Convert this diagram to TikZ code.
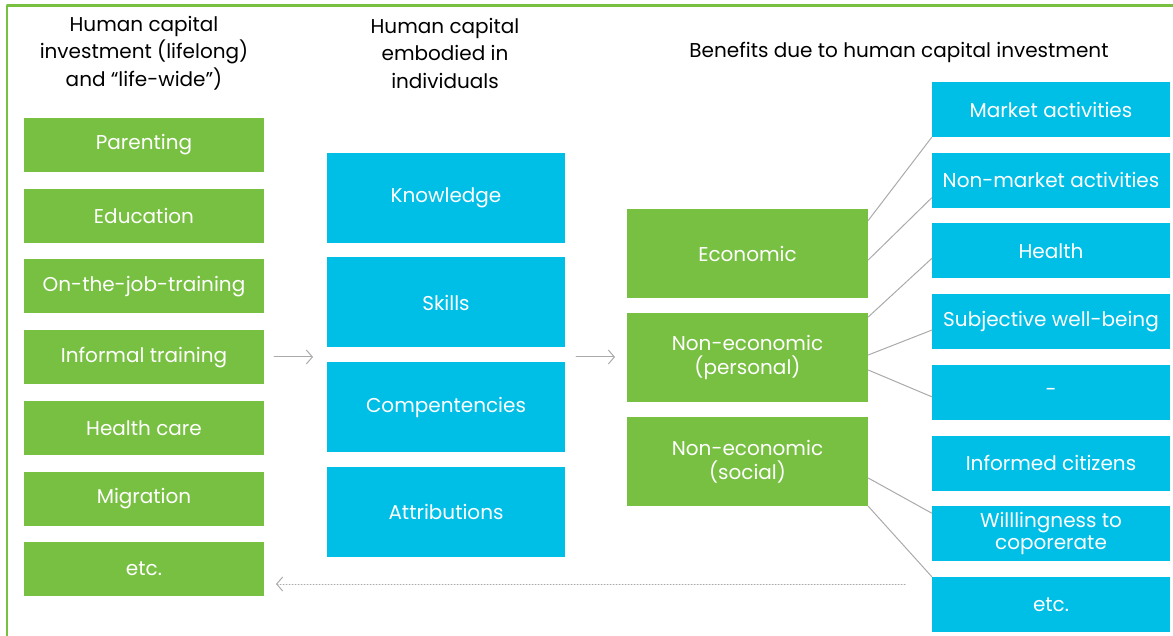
\documentclass[tikz,border=0pt]{standalone}
\usepackage{fontspec}
\setmainfont{Poppins}
\usetikzlibrary{arrows.meta}
\definecolor{hcgreen}{RGB}{120,192,66}
\definecolor{hcblue}{RGB}{0,191,231}
\definecolor{linkgray}{RGB}{170,170,170}
\begin{document}
\begin{tikzpicture}[x=1pt, y=-1pt, line join=round, line cap=round,
    txt/.style={font=\fontsize{20}{24}\selectfont, align=center, inner sep=0pt},
    greenbox/.style={txt, fill=hcgreen, text=white, minimum width=240pt, minimum height=54pt},
    bluebox/.style={txt, fill=hcblue, text=white, minimum width=238pt, minimum height=90pt},
    benefit/.style={txt, fill=hcgreen, text=white, minimum width=241pt, minimum height=89pt},
    outcome/.style={txt, fill=hcblue, text=white, minimum width=238pt, minimum height=55pt},
    head/.style={txt, text=black, font=\fontsize{20}{27.5}\selectfont},
    link/.style={draw=linkgray, line width=1pt},
    flow/.style={draw=linkgray, line width=1pt, -{Straight Barb[length=6pt,width=14pt]}}]
    \useasboundingbox (0,0) rectangle (1173,636);
    \draw[hcgreen, line width=2.5pt, line cap=butt] (7,636) -- (7,5.5) -- (1173,5.5);

    % headings
    \node[head] (hInvest) at (144,53) {Human capital\\investment (lifelong)\\and ``life-wide'')};
    \node[head] (hEmbody) at (445,53) {Human capital\\embodied in\\individuals};
    \node[head] (hBenefit) at (899,52) {Benefits due to human capital investment};

    % investment
    \node[greenbox] (parenting) at (144,145) {Parenting};
    \node[greenbox] (education) at (144,215.7) {Education};
    \node[greenbox] (jobTrain) at (144,286.4) {On-the-job-training};
    \node[greenbox] (informal) at (144,357.1) {Informal training};
    \node[greenbox] (healthCare) at (144,427.8) {Health care};
    \node[greenbox] (migration) at (144,498.5) {Migration};
    \node[greenbox] (investEtc) at (144,569.2) {etc.};

    % embodied
    \node[bluebox] (knowledge) at (446,198) {Knowledge};
    \node[bluebox] (skills) at (446,302.5) {Skills};
    \node[bluebox] (compet) at (446,407) {Compentencies};
    \node[bluebox] (attrib) at (446,511.5) {Attributions};

    % benefits
    \node[benefit] (economic) at (747.5,253.5) {Economic};
    \node[benefit] (personal) at (747.5,357.5) {Non-economic\\(personal)};
    \node[benefit] (social) at (747.5,461.5) {Non-economic\\(social)};

    % outcomes
    \node[outcome] (market) at (1051,109.5) {Market activities};
    \node[outcome] (nonMarket) at (1051,180.2) {Non-market activities};
    \node[outcome] (health) at (1051,250.9) {Health};
    \node[outcome] (wellBeing) at (1051,321.6) {Subjective well-being};
    \node[outcome] (blank) at (1051,392.3) {-};
    \node[outcome] (citizens) at (1051,463) {Informed citizens};
    \node[outcome, font=\fontsize{20}{22}\selectfont] (cooperate) at (1051,533.7) {Willlingness to\\coporerate};
    \node[outcome] (outEtc) at (1051,604.4) {etc.};

    \coordinate (arrA1) at (274,357);
    \coordinate (arrA2) at (313,357);
    \coordinate (arrB1) at (576,357);
    \coordinate (arrB2) at (615,357);
    \coordinate (backStart) at (905,584);
    \coordinate (backEnd) at (276,584);

    \draw[flow] (arrA1) -- (arrA2);
    \draw[flow] (arrB1) -- (arrB2);
    \draw[flow, dotted] (backStart) -- (backEnd);

    \draw[link] ([yshift=33pt]economic.east) -- (market.south west);
    \draw[link] ([yshift=-6.5pt]economic.east) -- ([yshift=-17.5pt]nonMarket.west);
    \draw[link] ([yshift=40.5pt]personal.east) -- ([yshift=-7.5pt]health.west);
    \draw[link] ([yshift=2.5pt]personal.east) -- ([yshift=-8.5pt]wellBeing.west);
    \draw[link] ([yshift=-12.5pt]personal.east) -- ([yshift=-4.5pt]blank.west);
    \draw[link] ([yshift=-16.5pt]social.east) -- ([yshift=20.5pt]cooperate.west);
    \draw[link] (social.south east) -- (outEtc.north west);
\end{tikzpicture}
\end{document}
